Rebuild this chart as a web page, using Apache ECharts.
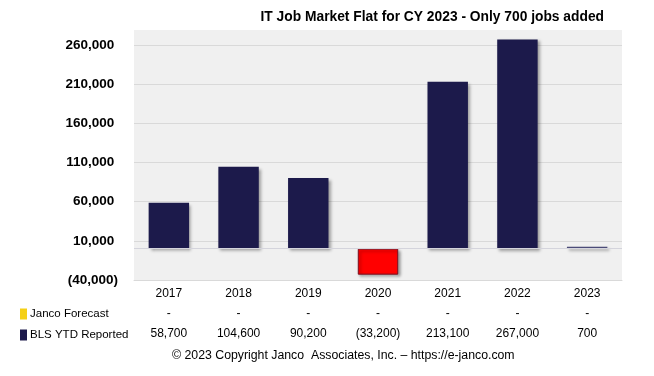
<!DOCTYPE html>
<html>
<head>
<meta charset="utf-8">
<script src="https://cdn.jsdelivr.net/npm/echarts@6/dist/echarts.min.js"></script>
<style>
  html, body { margin: 0; padding: 0; background: #fff; }
  #chart { width: 654px; height: 376px; }
</style>
</head>
<body>
<div id="chart"></div>
<script>
const years = ['2017', '2018', '2019', '2020', '2021', '2022', '2023']
const blsReported = [58700, 104600, 90200, -33200, 213100, 267000, 700]
const jancoForecast = [null, null, null, null, null, null, null]

const NAVY = '#1c1a4b'
const FONT = '"Liberation Sans", Arial, sans-serif'

function fmt(v) {
  if (v === null || v === undefined) return '-'
  const s = Math.abs(v).toLocaleString('en-US')
  return v < 0 ? '(' + s + ')' : s
}

const chart = echarts.init(document.getElementById('chart'))

const option = {
  backgroundColor: '#fff',
  animation: false,
  title: {
    text: 'IT Job Market Flat for CY 2023 - Only 700 jobs added',
    right: 45,
    top: 5,
    textStyle: { fontFamily: FONT, fontSize: 13.8, fontWeight: 'bold', color: '#000' }
  },
  legend: {
    orient: 'vertical',
    left: 20,
    top: 308,
    padding: 0,
    icon: 'rect',
    itemWidth: 7,
    itemHeight: 11,
    itemGap: 9,
    selectedMode: false,
    textStyle: { fontFamily: FONT, fontSize: 11.5, color: '#000', padding: [0, 0, 0, -2] },
    data: ['Janco Forecast', 'BLS YTD Reported']
  },
  grid: {
    left: 134,
    right: 32,
    top: 30,
    bottom: 96,
    show: true,
    backgroundColor: '#f0f0f0',
    borderWidth: 0
  },
  xAxis: {
    type: 'category',
    data: years,
    axisLine: { onZero: false, lineStyle: { color: '#d9d9d9' } },
    axisTick: { show: false },
    axisLabel: {
      margin: 4,
      interval: 0,
      formatter: (val, idx) =>
        '{y|' + val + '}\n{f|' + fmt(jancoForecast[idx]) + '}\n{v|' + fmt(blsReported[idx]) + '}',
      rich: {
        y: { fontFamily: FONT, fontSize: 12, color: '#000', lineHeight: 20 },
        f: { fontFamily: FONT, fontSize: 12, color: '#000', lineHeight: 20 },
        v: { fontFamily: FONT, fontSize: 12, color: '#000', lineHeight: 20 }
      }
    }
  },
  yAxis: {
    type: 'value',
    min: -40000,
    max: 279000,
    interval: 50000,
    axisLine: { show: false },
    axisTick: { show: false },
    splitLine: { showMaxLine: false, lineStyle: { color: '#d9d9d9' } },
    axisLabel: {
      showMaxLabel: false,
      margin: 16,
      fontFamily: FONT,
      fontSize: 13.5,
      fontWeight: 'bold',
      color: '#000',
      formatter: v => (v < 0 ? fmt(v) : fmt(v) + ' ')
    }
  },
  series: [
    {
      name: 'Janco Forecast',
      type: 'bar',
      stack: 'jobs',
      z: 2,
      data: jancoForecast,
      itemStyle: { color: '#f5d015' },
      // zero line, kept under the bars
      markLine: {
        silent: true,
        symbol: 'none',
        label: { show: false },
        lineStyle: { color: '#d4d4dc', type: 'solid', width: 1 },
        data: [{ yAxis: 0 }]
      }
    },
    {
      name: 'BLS YTD Reported',
      type: 'bar',
      stack: 'jobs',
      z: 4,
      barWidth: '58%',
      barMinHeight: 2,
      data: blsReported.map((v, i) => {
        if (v < 0) return { value: v, itemStyle: { color: '#ff0000', borderColor: '#7a1020', borderWidth: 1 } }
        if (i === years.length - 1) return { value: v, itemStyle: { color: '#4b4b78' } }
        return v
      }),
      itemStyle: {
        color: NAVY,
        shadowColor: 'rgba(0, 0, 0, 0.35)',
        shadowBlur: 3,
        shadowOffsetX: 2,
        shadowOffsetY: 2
      }
    }
  ],
  graphic: [
    {
      type: 'text',
      left: 172,
      top: 350,
      style: {
        text: '\u00a9 2023 Copyright Janco  Associates, Inc. \u2013 https://e-janco.com',
        fontFamily: FONT,
        fontSize: 12.3,
        fill: '#000'
      }
    }
  ]
}

chart.setOption(option)
</script>
</body>
</html>
